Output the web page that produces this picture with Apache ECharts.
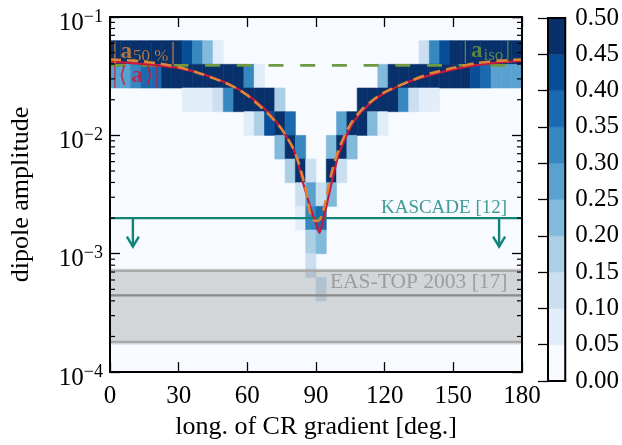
<!DOCTYPE html>
<html><head><meta charset="utf-8">
<script src="https://cdn.jsdelivr.net/npm/echarts@6/dist/echarts.min.js"></script>
<style>html,body{margin:0;padding:0;background:#fff}#c{width:622px;height:445px}</style>
</head><body><div id="c"></div>
<script>
// ---------------- data ----------------
const xTicks = [0, 30, 60, 90, 120, 150, 180];
const yTickExponents = [-4, -3, -2, -1];
const minorMultipliers = [2, 3, 4, 5, 6, 7, 8, 9];
const cbTicks = [0, 0.05, 0.10, 0.15, 0.20, 0.25, 0.30, 0.35, 0.40, 0.45, 0.50];
const levelColors = ['#f7fbff', '#e1edf8', '#cbdff1', '#abd0e6', '#82badb', '#59a2cf', '#3787c0', '#1b6aaf', '#084d97', '#08306b'];

const xBinWidth = 4.5;   // deg
const yLogStart = -4;    // log10 of lowest bin edge
const yBinLog = 0.2;     // bin width in log10

// [x bin, y bin, fraction]
const heatCells = [
  [0,13,0.72],[0,12,0.28],[1,13,0.72],[1,12,0.28],[2,13,0.67],[2,12,0.33],
  [3,13,0.62],[3,12,0.38],[4,13,0.61],[4,12,0.39],[5,13,0.52],[5,12,0.48],
  [6,13,0.50],[6,12,0.50],
  [7,13,0.42],[7,12,0.50],[7,11,0.08],[8,13,0.32],[8,12,0.60],[8,11,0.08],
  [9,13,0.22],[9,12,0.70],[9,11,0.08],[10,13,0.07],[10,12,0.80],[10,11,0.13],
  [11,12,0.68],[11,11,0.32],[12,12,0.52],[12,11,0.48],
  [13,12,0.32],[13,11,0.60],[13,10,0.08],[14,12,0.07],[14,11,0.75],[14,10,0.18],
  [15,11,0.57],[15,10,0.43],[16,11,0.17],[16,10,0.60],[16,9,0.23],
  [17,10,0.37],[17,9,0.46],[17,8,0.17],
  [18,9,0.32],[18,8,0.48],[18,7,0.12],[18,6,0.08],
  [19,8,0.12],[19,7,0.27],[19,6,0.32],[19,5,0.19],[19,4,0.11],
  [20,7,0.12],[20,6,0.38],[20,5,0.22],[20,3,0.12],
  [21,9,0.22],[21,8,0.55],[21,7,0.23],
  [22,10,0.28],[22,9,0.60],[22,8,0.12],
  [23,10,0.77],[23,9,0.23],[24,11,0.50],[24,10,0.50],[25,11,0.78],[25,10,0.22],
  [26,12,0.22],[26,11,0.70],[26,10,0.08],[27,12,0.50],[27,11,0.50],
  [28,12,0.67],[28,11,0.33],[29,12,0.87],[29,11,0.13],
  [30,13,0.12],[30,12,0.80],[30,11,0.08],[31,13,0.32],[31,12,0.60],[31,11,0.08],
  [32,13,0.43],[32,12,0.57],[33,13,0.50],[33,12,0.50],[34,13,0.52],[34,12,0.48],
  [35,13,0.57],[35,12,0.43],[36,13,0.62],[36,12,0.38],
  [37,13,0.72],[37,12,0.28],[38,13,0.72],[38,12,0.28],[39,13,0.72],[39,12,0.28]
];

const meanDeg = [0,10,20,30,40,50,55,60,65,70,75,80,82,84,86,88,90,91.5,93,94.5,96,98,100,103,106,110,115,120,130,140,150,160,170,180];
const meanAmp = [0.0417,0.0408,0.0392,0.0370,0.0332,0.0282,0.0252,0.0220,0.0186,0.0150,0.0113,0.0077,0.0060,0.0042,0.0031,0.0023,0.0018,0.0015,0.0019,0.0025,0.0034,0.0050,0.0070,0.0096,0.0126,0.0159,0.0196,0.0228,0.0281,0.0323,0.0361,0.0392,0.0414,0.0426];

const a50Deg = [0,10,20,30,40,50,55,60,65,70,75,80,82,84,86,87,88,89.5,91,92.5,94,95.5,97,100,103,106,110,115,120,130,140,150,160,170,180];
const a50Amp = [0.0437,0.0428,0.0408,0.0378,0.0330,0.0280,0.0252,0.0218,0.0180,0.0146,0.0113,0.0078,0.0062,0.0046,0.0032,0.0024,0.0020,0.0019,0.0019,0.0021,0.0027,0.0037,0.0050,0.0077,0.0105,0.0133,0.0165,0.0200,0.0232,0.0282,0.0334,0.0372,0.0408,0.0428,0.0437];

const aIso = 0.039;
const kascadeLimit = 0.002;
const kascadeArrowDeg = [10, 170];
const kascadeArrowTip = 0.00115;
const easTopCenter = 4.45e-4;
const easTopEdges = [1.80e-4, 7.16e-4];
const easTopFill = [1.71e-4, 7.48e-4];

// ---------------- chart ----------------
const FONT = 'Liberation Serif, DejaVu Serif, serif';
const RED = '#c8183c', ORANGE = '#de8636', GREEN = '#6f9a3f', TEAL = '#11847a', GREY = '#8f8f8f';
const xMin = xTicks[0], xMax = xTicks[xTicks.length - 1];
const yMin = Math.pow(10, yTickExponents[0]), yMax = Math.pow(10, yTickExponents[yTickExponents.length - 1]);

const heatData = heatCells.map(c => [(c[0] + 0.5) * xBinWidth, Math.pow(10, yLogStart + (c[1] + 0.5) * yBinLog), c[2]]);
const minorTickData = [];
for (let e = yTickExponents[0]; e < yTickExponents[yTickExponents.length - 1]; e++) {
  minorMultipliers.forEach(m => minorTickData.push([xMin, m * Math.pow(10, e)]));
}
const pairs = (xs, ys) => xs.map((x, i) => [x, ys[i]]);
const hline = v => [[xMin, v], [xMax, v]];

const chart = echarts.init(document.getElementById('c'), null, {renderer: 'canvas', width: 622, height: 445});

const axisLineStyle = {color: '#000', width: 2};
const tickStyle = {color: '#000', width: 1.3};

function labelRich(color) {
  return {
    d: {fontSize: 26, fontFamily: FONT, color: color, lineHeight: 26},
    g: {fontSize: 22, fontFamily: 'DejaVu Serif, ' + FONT, color: color, lineHeight: 26, padding: [0, 1, 0, 1]},
    a: {fontSize: 23, fontFamily: FONT, fontWeight: 'bold', color: color, lineHeight: 26, padding: [0, 1, 0, 3]},
    s: {fontSize: 17, fontFamily: FONT, color: color, lineHeight: 14, verticalAlign: 'bottom', padding: [0, 2, 0, 0]}
  };
}

const option = {
  animation: false,
  backgroundColor: '#ffffff',
  grid: [
    {left: 104, top: 17, width: 418, height: 364, show: true, backgroundColor: levelColors[0], borderWidth: 0},
    {left: 548, top: 18, width: 19, height: 363}
  ],
  visualMap: {
    type: 'piecewise', show: false, seriesIndex: 0, dimension: 2,
    pieces: levelColors.map((c, i) => i < levelColors.length - 1
      ? {gte: cbTicks[i], lt: cbTicks[i + 1], color: c}
      : {gte: cbTicks[i], color: c})
  },
  xAxis: [
    {gridIndex: 0, type: 'value', min: xMin, max: xMax, interval: 30, position: 'bottom', z: 10,
     axisLine: {show: true, onZero: false, lineStyle: axisLineStyle},
     axisTick: {show: true, inside: true, length: 10, lineStyle: tickStyle},
     axisLabel: {show: true, color: '#000', fontFamily: FONT, fontSize: 25, margin: 12},
     splitLine: {show: false},
     name: 'long. of CR gradient [deg.]', nameLocation: 'middle', nameGap: 29,
     nameTextStyle: {color: '#000', fontFamily: FONT, fontSize: 26}},
    {gridIndex: 0, type: 'value', min: xMin, max: xMax, interval: 30, position: 'top', z: 10,
     axisLine: {show: true, onZero: false, lineStyle: axisLineStyle},
     axisTick: {show: true, inside: true, length: 10, lineStyle: tickStyle},
     axisLabel: {show: false}, splitLine: {show: false}},
    {gridIndex: 1, type: 'value', min: 0, max: 1, show: false}
  ],
  yAxis: [
    {gridIndex: 0, type: 'log', logBase: 10, min: yMin, max: yMax, position: 'left', z: 10,
     axisLine: {show: true, onZero: false, lineStyle: axisLineStyle},
     axisTick: {show: true, inside: true, length: 10, lineStyle: tickStyle},
     splitLine: {show: false},
     axisLabel: {show: true, margin: 7,
       formatter: v => {
         const e = Math.round(Math.log10(v));
         return '{b|10}{s|\u2212' + Math.abs(e) + '}';
       },
       rich: {
         b: {fontSize: 25, fontFamily: FONT, color: '#000', lineHeight: 25, verticalAlign: 'bottom'},
         s: {fontSize: 18, fontFamily: FONT, color: '#000', lineHeight: 37, verticalAlign: 'middle'}
       }},
     name: 'dipole amplitude', nameLocation: 'middle', nameGap: 76,
     nameTextStyle: {color: '#000', fontFamily: FONT, fontSize: 26}},
    {gridIndex: 0, type: 'log', logBase: 10, min: yMin, max: yMax, position: 'right', z: 10,
     axisLine: {show: true, onZero: false, lineStyle: axisLineStyle},
     axisTick: {show: true, inside: true, length: 10, lineStyle: tickStyle},
     axisLabel: {show: false}, splitLine: {show: false}},
    {gridIndex: 1, type: 'value', min: cbTicks[0], max: cbTicks[cbTicks.length - 1], interval: 0.05, position: 'right', z: 10,
     axisLine: {show: false},
     axisTick: {show: true, inside: true, length: 10, lineStyle: tickStyle},
     axisLabel: {show: true, color: '#000', fontFamily: FONT, fontSize: 25, margin: 10, formatter: v => v.toFixed(2)},
     splitLine: {show: false}}
  ],
  series: [
    { // heatmap cells
      type: 'custom', xAxisIndex: 0, yAxisIndex: 0, z: 1, silent: true, clip: true,
      data: heatData,
      renderItem: (params, api) => {
        const xc = api.value(0), lc = Math.log10(api.value(1));
        const p0 = api.coord([xc - xBinWidth / 2, Math.pow(10, lc - yBinLog / 2)]);
        const p1 = api.coord([xc + xBinWidth / 2, Math.pow(10, lc + yBinLog / 2)]);
        const c = api.visual('color');
        return {type: 'rect', shape: {x: p0[0], y: p1[1], width: p1[0] - p0[0], height: p0[1] - p1[1]},
                style: {fill: c, stroke: c, lineWidth: 0.6}};
      }
    },
    { // EAS-TOP band
      type: 'custom', xAxisIndex: 0, yAxisIndex: 0, z: 2, silent: true,
      data: [[xMin, easTopFill[0], easTopFill[1]]],
      renderItem: (params, api) => {
        const p0 = api.coord([xMin, api.value(1)]);
        const p1 = api.coord([xMax, api.value(2)]);
        return {type: 'rect', shape: {x: p0[0], y: p1[1], width: p1[0] - p0[0], height: p0[1] - p1[1]},
                style: {fill: 'rgba(127,129,130,0.30)'}};
      }
    },
    {type: 'line', z: 3, data: hline(easTopEdges[0]), symbol: 'none', silent: true, lineStyle: {color: '#a9a9a9', width: 2.2}},
    {type: 'line', z: 3, data: hline(easTopEdges[1]), symbol: 'none', silent: true, lineStyle: {color: '#a9a9a9', width: 2.2}},
    {type: 'line', z: 3, data: hline(easTopCenter), symbol: 'none', silent: true, lineStyle: {color: '#8a8a8a', width: 2.4}},
    {type: 'line', z: 3, data: hline(kascadeLimit), symbol: 'none', silent: true, lineStyle: {color: TEAL, width: 2.4}},
    { // KASCADE arrows
      type: 'custom', xAxisIndex: 0, yAxisIndex: 0, z: 3, silent: true,
      data: kascadeArrowDeg.map(d => [d, kascadeLimit, kascadeArrowTip]),
      renderItem: (params, api) => {
        const p0 = api.coord([api.value(0), api.value(1)]);
        const p1 = api.coord([api.value(0), api.value(2)]);
        const st = {stroke: TEAL, lineWidth: 2.4, fill: null};
        return {type: 'group', children: [
          {type: 'line', shape: {x1: p0[0], y1: p0[1], x2: p1[0], y2: p1[1]}, style: st},
          {type: 'polyline', shape: {points: [[p1[0] - 6, p1[1] - 10], [p1[0], p1[1]], [p1[0] + 6, p1[1] - 10]]}, style: st}
        ]};
      }
    },
    {type: 'line', z: 4, data: hline(aIso), symbol: 'none', silent: true, lineStyle: {color: GREEN, width: 2.6, type: [15, 16.7]}},
    {type: 'line', z: 4, data: pairs(meanDeg, meanAmp), symbol: 'none', silent: true, smooth: 0.2, lineStyle: {color: RED, width: 2.2}},
    {type: 'line', z: 4, data: pairs(a50Deg, a50Amp), symbol: 'none', silent: true, smooth: 0.2, lineStyle: {color: ORANGE, width: 2.6, type: [11, 6]}},
    { // minor log ticks, left and right
      type: 'custom', xAxisIndex: 0, yAxisIndex: 0, z: 11, silent: true,
      data: minorTickData,
      renderItem: (params, api) => {
        const v = api.value(1);
        const pl = api.coord([xMin, v]);
        const pr = api.coord([xMax, v]);
        return {type: 'group', children: [
          {type: 'line', shape: {x1: pl[0], y1: pl[1], x2: pl[0] + 5, y2: pl[1]}, style: {stroke: '#000', lineWidth: 1.2}},
          {type: 'line', shape: {x1: pr[0], y1: pr[1], x2: pr[0] - 5, y2: pr[1]}, style: {stroke: '#000', lineWidth: 1.2}}
        ]};
      }
    },
    { // annotations
      type: 'scatter', z: 6, silent: true, symbolSize: 0.1, itemStyle: {color: 'rgba(0,0,0,0)'},
      data: [
        {value: [1.0, 0.0507], label: {show: true, position: 'right', distance: 0, color: ORANGE,
          formatter: '{d||}{a|a}{s|50 %}{d||}', rich: labelRich(ORANGE)}},
        {value: [1.0, 0.0316], label: {show: true, position: 'right', distance: 0, color: RED,
          formatter: '{d||}{g|\u27e8}{a|a}{g|\u27e9}{d||}', rich: labelRich(RED)}},
        {value: [175.0, 0.0518], label: {show: true, position: 'left', distance: 0, color: GREEN,
          formatter: '{d||}{a|a}{s|iso}{d||}', rich: labelRich(GREEN)}},
        {value: [173.5, 0.00245], label: {show: true, position: 'left', distance: 0, color: TEAL,
          formatter: 'KASCADE [12]', fontFamily: FONT, fontSize: 19}},
        {value: [173.7, 5.73e-4], label: {show: true, position: 'left', distance: 0, color: GREY,
          formatter: 'EAS-TOP 2003 [17]', fontFamily: FONT, fontSize: 21.5}}
      ]
    },
    { // colorbar
      type: 'custom', xAxisIndex: 2, yAxisIndex: 2, z: 2, silent: true,
      data: levelColors.map((c, i) => [0, cbTicks[i], cbTicks[i + 1], i]),
      renderItem: (params, api) => {
        const p0 = api.coord([0, api.value(1)]);
        const p1 = api.coord([1, api.value(2)]);
        const c = levelColors[api.value(3)];
        return {type: 'rect', shape: {x: p0[0], y: p1[1], width: p1[0] - p0[0], height: p0[1] - p1[1]},
                style: {fill: c, stroke: c, lineWidth: 0.5}};
      }
    },
    { // colorbar frame
      type: 'custom', xAxisIndex: 2, yAxisIndex: 2, z: 12, silent: true,
      data: [[0, cbTicks[0]]],
      renderItem: (params, api) => {
        const p0 = api.coord([0, cbTicks[0]]);
        const p1 = api.coord([1, cbTicks[cbTicks.length - 1]]);
        return {type: 'rect', shape: {x: p0[0], y: p1[1], width: p1[0] - p0[0], height: p0[1] - p1[1]},
                style: {fill: null, stroke: '#000', lineWidth: 2}};
      }
    }
  ]
};
chart.setOption(option);
</script>
</body></html>
